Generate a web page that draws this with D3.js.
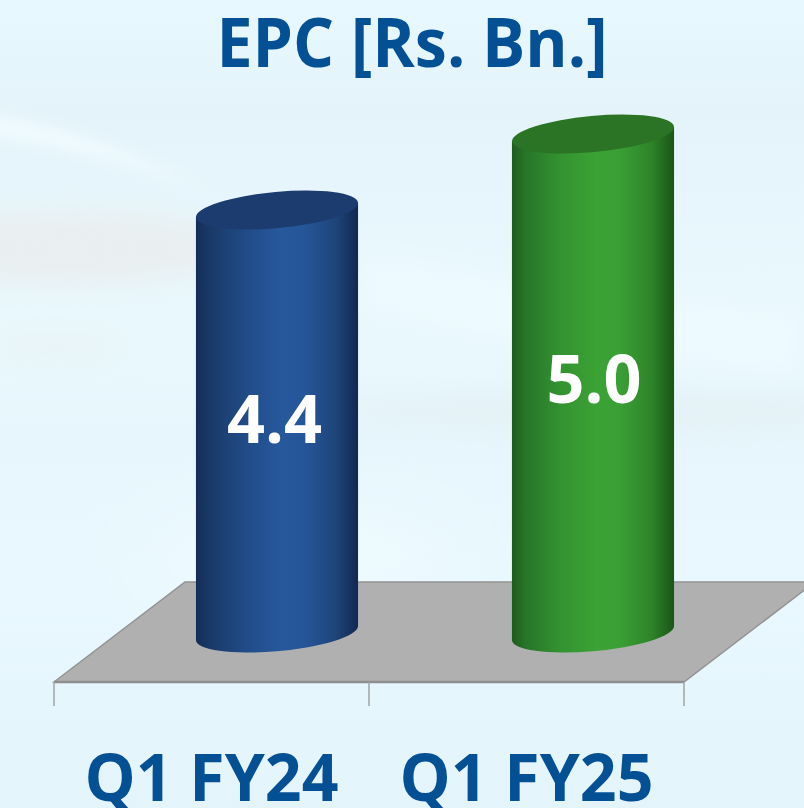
<!DOCTYPE html>
<html>
<head>
<meta charset="utf-8">
<script src="https://cdnjs.cloudflare.com/ajax/libs/d3/7.8.5/d3.min.js"></script>
<style>
html,body{margin:0;padding:0;background:#e4f5fc;overflow:hidden}
text{font-family:'Open Sans',sans-serif;font-weight:700}
</style>
</head>
<body>
<div id="chart"></div>
<script>
var categories=['Q1 FY24','Q1 FY25'];
var values=[4.4,5.0];
var valueLabels=['4.4','5.0'];
var title='EPC [Rs. Bn.]';

var W=804,H=808;
var svg=d3.select('#chart').append('svg').attr('width',W).attr('height',H).style('display','block');
var defs=svg.append('defs');

// floor of the 3d plot
var floorFront=682,floorBack=582,floorShift=131;
var xFront=d3.scaleBand().domain(categories).range([54,684]).paddingInner(0.486).paddingOuter(0.243);
var xDepth=d3.scaleBand().domain(categories).range([119,751]).paddingInner(0.487).paddingOuter(0.2435);
// the axis does not start at zero: floor sits about 1.06
var y=d3.scaleLinear().domain([1.06,5.0]).range([633,134]);

// cylinder shape, ellipse tilted about 5 degrees
var rx=81.3,ry=18.1,tilt=-5.2,edgeDy=7;
// label placement differs a little per bar in the original
var labelDx=[-2.5,1],labelDy=[21.5,19.5];

function gradient(id,stops){
	var g=defs.append('linearGradient').attr('id',id);
	stops.forEach(function(s){
		g.append('stop').attr('offset',s[0]).attr('stop-color',s[1]);
	});
}
gradient('bar0',[[0,'#142d58'],[0.08,'#193966'],[0.3,'#204b87'],[0.52,'#27589c'],[0.66,'#26569a'],[0.86,'#1e4579'],[1,'#122850']]);
gradient('bar1',[[0,'#1e5c1b'],[0.08,'#27742a'],[0.3,'#339330'],[0.52,'#3ba235'],[0.66,'#3aa035'],[0.86,'#2e8429'],[1,'#1a5517']]);
var topFill=['#1c3c70','#2b7425'];

[['b8',8],['b14',14],['b40',40]].forEach(function(b){
	defs.append('filter').attr('id',b[0]).attr('x','-30%').attr('y','-150%').attr('width','160%').attr('height','400%')
		.append('feGaussianBlur').attr('stdDeviation',b[1]);
});
var sky=defs.append('linearGradient').attr('id','sky').attr('x2',0).attr('y2',1);
[[0,'#e7f8fe'],[0.14,'#e3f3f9'],[0.25,'#e6f6fc'],[0.4,'#e9f8fd'],[0.55,'#e6f6fc'],[0.72,'#e8f8fe'],[1,'#e4f4fb']].forEach(function(s){
	sky.append('stop').attr('offset',s[0]).attr('stop-color',s[1]);
});

// background wisps
var bg=svg.append('g');
bg.append('rect').attr('width',W).attr('height',H).attr('fill','url(#sky)');
bg.append('ellipse').attr('cx',70).attr('cy',248).attr('rx',170).attr('ry',38).attr('fill','#e9eff0').attr('filter','url(#b14)');
bg.append('ellipse').attr('cx',55).attr('cy',345).attr('rx',70).attr('ry',10).attr('fill','#e9f2f3').attr('filter','url(#b14)');
bg.append('ellipse').attr('cx',620).attr('cy',412).attr('rx',300).attr('ry',16).attr('fill','#e4f1f5').attr('filter','url(#b14)');
bg.append('path').attr('d','M-20,112C60,125 130,150 210,190C130,165 60,145 -20,135Z').attr('fill','#f1fbff').attr('filter','url(#b8)');
bg.append('path').attr('d','M360,250C480,270 640,300 804,310L804,375C640,365 470,340 360,310Z').attr('fill','#edfaff').attr('filter','url(#b14)');
bg.append('ellipse').attr('cx',300).attr('cy',555).attr('rx',180).attr('ry',45).attr('fill','#effbff').attr('filter','url(#b40)');

// floor
var floor=d3.path();
floor.moveTo(54,floorFront);
floor.lineTo(54+floorShift,floorBack);
floor.lineTo(684+floorShift,floorBack);
floor.lineTo(684,floorFront);
floor.closePath();
svg.append('path').attr('d',floor.toString()).attr('fill','#b0b0b0').attr('stroke','#929292').attr('stroke-width',1.5);
svg.append('line').attr('x1',54).attr('x2',684).attr('y1',floorFront).attr('y2',floorFront).attr('stroke','#8e8e8e').attr('stroke-width',2.5);

// ticks between the categories
var tickPos=[54,54+xFront.step(),54+2*xFront.step()];
svg.selectAll('line.tick').data(tickPos).enter().append('line').attr('class','tick')
	.attr('x1',function(d){return d}).attr('x2',function(d){return d})
	.attr('y1',floorFront).attr('y2',floorFront+24)
	.attr('stroke','#a0a4a6').attr('stroke-width',1.5);

// cylinders
var bars=svg.selectAll('g.bar').data(values).enter().append('g').attr('class','bar');
bars.append('path')
	.attr('fill',function(d,i){return 'url(#bar'+i+')'})
	.attr('d',function(d,i){
		var cx=xDepth(categories[i])+xDepth.bandwidth()/2,
			half=xDepth.bandwidth()/2,
			top=y(d),base=y.range()[0];
		return 'M'+(cx-half)+','+(top+edgeDy)+
			'L'+(cx-half)+','+(base+edgeDy)+
			'A'+rx+','+ry+' '+tilt+' 0 0 '+(cx+half)+','+(base-edgeDy)+
			'L'+(cx+half)+','+(top-edgeDy)+'Z';
	});
bars.append('ellipse')
	.attr('rx',rx).attr('ry',ry)
	.attr('fill',function(d,i){return topFill[i]})
	.attr('transform',function(d,i){
		return 'translate('+(xDepth(categories[i])+xDepth.bandwidth()/2)+','+y(d)+') rotate('+tilt+')';
	});

// value labels, mid height of each bar
bars.append('text')
	.attr('x',function(d,i){return xDepth(categories[i])+xDepth.bandwidth()/2+labelDx[i]})
	.attr('y',function(d,i){return (y(d)+y.range()[0])/2+labelDy[i]})
	.attr('text-anchor','middle')
	.attr('font-size',66)
	.attr('fill','#fff')
	.attr('textLength',95).attr('lengthAdjust','spacingAndGlyphs')
	.text(function(d,i){return valueLabels[i]});

// category labels
svg.selectAll('text.cat').data(categories).enter().append('text').attr('class','cat')
	.attr('x',function(d){return xFront(d)+xFront.bandwidth()/2})
	.attr('y',801)
	.attr('text-anchor','middle')
	.attr('font-size',67)
	.attr('fill','#045095')
	.attr('textLength',254).attr('lengthAdjust','spacingAndGlyphs')
	.text(function(d){return d});

svg.append('text')
	.attr('x',412).attr('y',67)
	.attr('text-anchor','middle')
	.attr('font-size',68)
	.attr('fill','#045095')
	.attr('textLength',391).attr('lengthAdjust','spacingAndGlyphs')
	.text(title);
</script>
</body>
</html>
